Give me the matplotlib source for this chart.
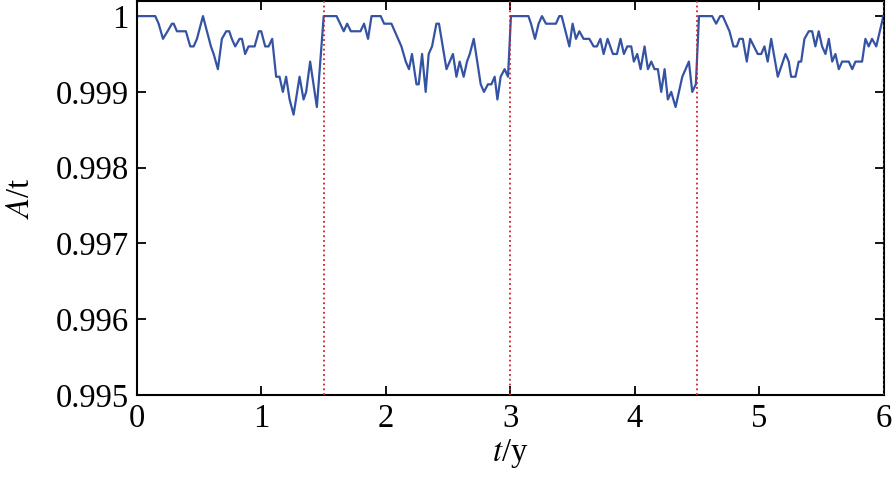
import matplotlib
matplotlib.use("Agg")
import matplotlib.pyplot as plt

# time in years
t = [0.000, 0.147, 0.174, 0.209, 0.246, 0.281, 0.295, 0.321, 0.393, 0.428,
     0.455, 0.482, 0.530, 0.562, 0.594, 0.616, 0.650, 0.682, 0.717, 0.741,
     0.762, 0.789, 0.824, 0.843, 0.869, 0.896, 0.945, 0.979, 0.998, 1.030,
     1.057, 1.086, 1.118, 1.145, 1.172, 1.198, 1.226, 1.258, 1.306, 1.338,
     1.359, 1.391, 1.418, 1.445, 1.500,
     1.603, 1.661, 1.688, 1.718, 1.795, 1.824, 1.856, 1.884, 1.958, 1.985,
     2.044, 2.124, 2.159, 2.185, 2.209, 2.245, 2.263, 2.290, 2.319, 2.343,
     2.370, 2.405, 2.426, 2.486, 2.538, 2.566, 2.592, 2.624, 2.651, 2.673,
     2.705, 2.761, 2.787, 2.819, 2.847, 2.873, 2.895, 2.921, 2.953, 2.980,
     3.004,
     3.144, 3.165, 3.197, 3.226, 3.253, 3.285, 3.365, 3.392, 3.411, 3.473,
     3.499, 3.526, 3.553, 3.587, 3.633, 3.668, 3.694, 3.722, 3.748, 3.780,
     3.823, 3.855, 3.884, 3.911, 3.938, 3.970, 3.991, 4.018, 4.045, 4.077,
     4.104, 4.131, 4.157, 4.184, 4.211, 4.238, 4.264, 4.291, 4.326, 4.380,
     4.433, 4.460, 4.489, 4.514,
     4.620, 4.652, 4.684, 4.705, 4.759, 4.791, 4.818, 4.839, 4.866, 4.898,
     4.925, 4.986, 5.014, 5.040, 5.066, 5.094, 5.147, 5.209, 5.235, 5.254,
     5.289, 5.315, 5.335, 5.361, 5.396, 5.423, 5.449, 5.476, 5.503, 5.530,
     5.557, 5.584, 5.610, 5.637, 5.664, 5.717, 5.745, 5.771, 5.824, 5.851,
     5.877, 5.904, 5.938, 5.995]

A = [1.0000, 1.0000, 0.9999, 0.9997, 0.9998, 0.9999, 0.9999, 0.9998, 0.9998, 0.9996,
     0.9996, 0.9997, 1.0000, 0.9998, 0.9996, 0.9995, 0.9993, 0.9997, 0.9998, 0.9998,
     0.9997, 0.9996, 0.9997, 0.9997, 0.9995, 0.9996, 0.9996, 0.9998, 0.9998, 0.9996,
     0.9996, 0.9997, 0.9992, 0.9992, 0.9990, 0.9992, 0.9989, 0.9987, 0.9992, 0.9989,
     0.9990, 0.9994, 0.9991, 0.9988, 1.0000,
     1.0000, 0.9998, 0.9999, 0.9998, 0.9998, 0.9999, 0.9997, 1.0000, 1.0000, 0.9999,
     0.9999, 0.9996, 0.9994, 0.9993, 0.9995, 0.9991, 0.9991, 0.9995, 0.9990, 0.9995,
     0.9996, 0.9999, 0.9999, 0.9993, 0.9995, 0.9992, 0.9994, 0.9992, 0.9994, 0.9995,
     0.9997, 0.9991, 0.9990, 0.9991, 0.9991, 0.9992, 0.9989, 0.9992, 0.9993, 0.9992,
     1.0000,
     1.0000, 0.9999, 0.9997, 0.9999, 1.0000, 0.9999, 0.9999, 1.0000, 1.0000, 0.9996,
     0.9999, 0.9997, 0.9998, 0.9997, 0.9997, 0.9996, 0.9996, 0.9997, 0.9995, 0.9997,
     0.9995, 0.9995, 0.9997, 0.9995, 0.9996, 0.9996, 0.9994, 0.9995, 0.9993, 0.9996,
     0.9993, 0.9994, 0.9993, 0.9993, 0.9990, 0.9993, 0.9989, 0.9990, 0.9988, 0.9992,
     0.9994, 0.9990, 0.9991, 1.0000,
     1.0000, 0.9999, 1.0000, 1.0000, 0.9998, 0.9996, 0.9996, 0.9997, 0.9997, 0.9994,
     0.9997, 0.9995, 0.9995, 0.9996, 0.9994, 0.9997, 0.9992, 0.9995, 0.9994, 0.9992,
     0.9992, 0.9994, 0.9994, 0.9997, 0.9998, 0.9998, 0.9996, 0.9998, 0.9996, 0.9995,
     0.9997, 0.9994, 0.9995, 0.9993, 0.9994, 0.9994, 0.9993, 0.9994, 0.9994, 0.9997,
     0.9996, 0.9997, 0.9996, 1.0000]

# maintenance instants
resets = [1.5, 3.0, 4.5, 6.0]

plt.rcParams["font.family"] = ["Liberation Serif", "DejaVu Serif"]
plt.rcParams["mathtext.fontset"] = "stix"

fig = plt.figure(figsize=(8.94, 4.78), dpi=100)
ax = fig.add_axes([0.1532, 0.1736, 0.8356, 0.8244])

ax.plot(t, A, color="#3553a3", linewidth=1.6)
for r in resets:
    ax.axvline(r, color="#cc2229", linestyle=":", linewidth=1.3, zorder=3)

ax.set_xlim(0, 6)
ax.set_ylim(0.995, 1.0002)
ax.set_xticks([0, 1, 2, 3, 4, 5, 6])
ax.set_yticks([0.995, 0.996, 0.997, 0.998, 0.999, 1.0])
ax.set_yticklabels(["0.995", "0.996", "0.997", "0.998", "0.999", "1"])

ax.tick_params(direction="in", top=True, right=True, length=6.5, width=1.3,
               labelsize=23.5, pad=6)
for s in ax.spines.values():
    s.set_linewidth(1.5)

ax.set_xlabel("$t$/y", fontsize=23.5, labelpad=2)
ax.set_ylabel("$A$/t", fontsize=23.5, labelpad=14)

fig.savefig("out.png", dpi=100)
